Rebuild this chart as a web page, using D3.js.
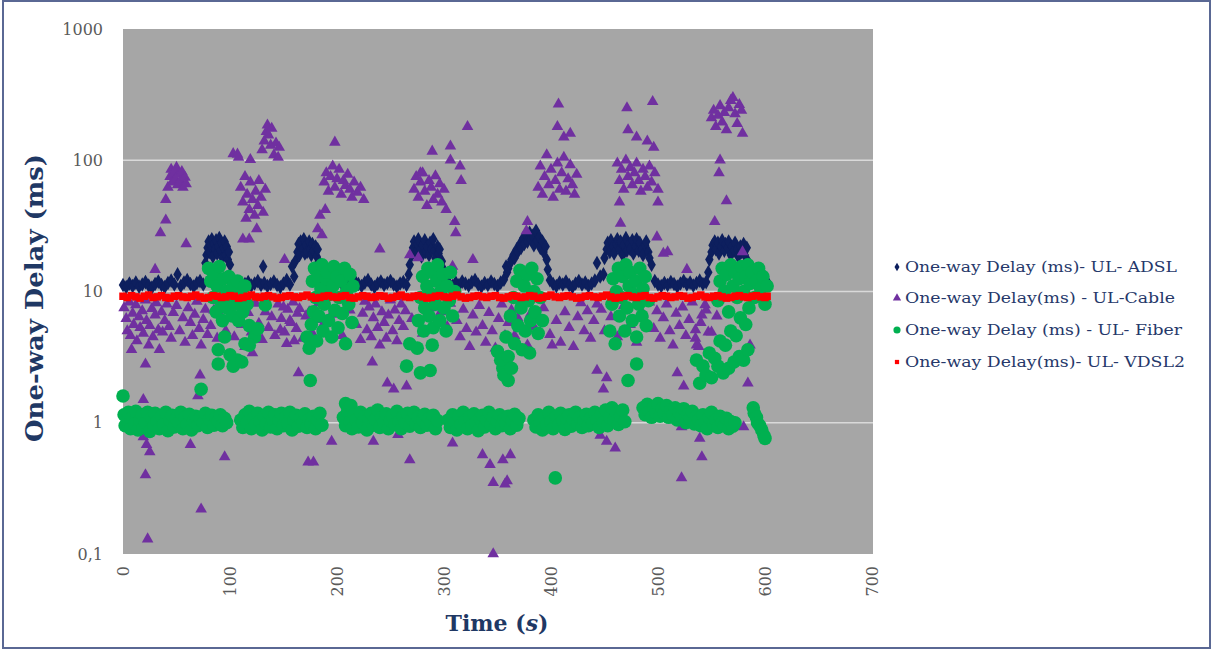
<!DOCTYPE html>
<html>
<head>
<meta charset="utf-8">
<script src="https://cdn.jsdelivr.net/npm/d3@7"></script>
<style>
  html, body { margin: 0; padding: 0; background: #ffffff; }
  svg { display: block; }
</style>
</head>
<body>
<svg id="chart" width="1212" height="650"></svg>
<script>
// Axis ticks
const xTicks = [0, 100, 200, 300, 400, 500, 600, 700];
const yTicks = [0.1, 1, 10, 100, 1000];
const yTickLabels = ["0,1", "1", "10", "100", "1000"];

// Series names
const seriesNames = [
  "One-way Delay (ms)- UL- ADSL",
  "One-way Delay(ms) - UL-Cable",
  "One-way Delay (ms) - UL- Fiber",
  "One-way Delay(ms)- UL- VDSL2"
];

// [time (s), delay (ms)]
const adsl = [
  [0,11.2],[3,10.8],[6,11.5],[9,11.0],[12,11.7],[15,10.9],[18,11.3],[21,11.8],[24,11.1],[27,10.7],[30,11.4],[33,11.9],[36,11.2],[39,10.8],[42,11.6],[45,12.1],[48,11.3],[51,13.5],[54,11.0],[57,11.7],[60,12.2],[63,11.4],[66,10.9],[69,11.6],[72,12.0],[75,11.3],
  [77,16.5],[78,19],[79,21.5],[80,24],[81,20],[82,22.5],[83,25],[84,18.5],[85,23],[86,21],[87,24.5],[88,19.5],[89,22],[90,25.5],[91,20.5],[92,23.5],[93,18],[94,21.5],[95,24],[96,19],[97,22],[98,17.5],[99,20],[100,16],
  [102,12.5],[105,11.2],[108,11.6],[111,10.9],[114,11.4],[117,11.8],[120,11.1],[123,11.5],[126,12.0],[129,11.2],[131,15.5],[132,11.6],[135,11.0],[138,11.4],[141,11.9],[144,11.2],[147,10.8],[150,11.5],[153,12.2],[156,11.3],[158,15.5],[160,13],
  [161,17],[163,20],[164,23],[165,19],[166,24],[168,21],[169,25],[170,19.5],[171,22.5],[172,20],[174,24],[175,21],[176,19],[177,23],[178,20.5],[180,22],[181,18.5],[182,21],[183,17],[185,13.5],
  [187,11.6],[190,11.2],[193,11.8],[196,11.0],[199,11.5],[202,12.1],[205,11.3],[208,10.9],[211,11.6],[214,11.2],[217,11.9],[220,11.4],[223,11.0],[226,11.7],[229,12.2],[232,11.3],[235,10.8],[238,11.5],[241,11.9],[244,11.2],[247,11.6],[250,12.0],[253,11.3],[256,10.9],[259,11.5],[262,11.8],[265,11.2],[267,13.5],
  [268,16],[270,19],[271,21.5],[272,24],[274,20],[275,23],[276,25],[278,21],[279,18.5],[280,22.5],[282,24.5],[283,20],[284,22],[286,19],[287,23.5],[288,21],[290,25],[291,20.5],[292,18],[294,22],[295,19.5],[296,21],[298,17],[300,14.5],
  [302,12.0],[305,11.4],[308,11.0],[311,11.7],[314,11.2],[317,11.9],[320,11.5],[323,11.1],[326,11.8],[329,12.2],[332,11.3],[335,10.9],[338,11.6],[341,11.2],[344,11.9],[347,11.4],[350,11.0],[353,11.7],[356,12.3],[358,15.5],[359,14],
  [360,15],[362,16.5],[363,17.5],[365,19],[366,18],[368,21],[369,20],[371,23],[372,21.5],[374,25.5],[375,23],[377,27],[378,24],[380,28],[381,25],[383,26.5],[384,22.5],[386,29],[387,24.5],[389,26],[390,21.5],[392,24],[393,20],[395,22],[396,17.5],[397,14.7],
  [399,12.2],[402,11.4],[405,11.0],[408,11.7],[411,11.3],[414,11.9],[417,11.2],[420,10.8],[423,11.5],[426,12.0],[429,11.3],[432,11.7],[435,11.0],[438,11.5],[441,12.1],[443,16.5],[446,13],[449,13.5],
  [450,18],[452,21],[453,23.5],[455,20],[456,24.5],[458,22],[459,19.5],[461,23],[462,25],[464,21],[465,24],[467,19],[468,22.5],[470,25.5],[471,20.5],[473,23],[474,21],[476,24.5],[477,19.5],[479,22],[480,25],[482,20.5],[483,23.5],[485,21],[486,19],[488,22.5],[489,24],[491,20],[492,18],[494,16],
  [497,12.0],[500,11.3],[503,11.0],[506,11.6],[509,11.2],[512,11.8],[515,11.4],[518,10.9],[521,11.5],[524,12.0],[527,11.3],[530,11.7],[533,11.1],[536,11.6],[539,12.1],[542,11.4],[545,11.8],[547,14],
  [548,17.5],[550,20],[551,22.5],[553,24],[554,21],[556,23.5],[557,19.5],[559,22],[560,24.5],[562,20.5],[563,23],[565,21.5],[566,24],[568,19],[569,22],[571,20.5],[572,23.5],[574,21],[575,18.5],[577,22],[578,20],[580,23],[581,19],[583,21.5],[584,17],[586,14],
  [588,12.3],[591,11.6],[594,12.5],[597,11.8],[600,12.8],[603,11.5]
];

const cable = [
  [1,7.5],[3,6.2],[4,5.0],[6,8.3],[7,4.6],[9,6.8],[10,5.6],[12,7.9],[13,4.2],[15,6.4],[16,5.3],[18,7.1],[19,4.8],[21,8.6],[22,6.0],[24,3.9],[25,5.5],[27,7.4],[28,4.5],[30,6.6],[31,8.2],[33,5.1],[34,3.6],
  [8,3.6],[21,2.8],[19,1.5],[19,0.78],[22,0.68],[25,0.6],[21,0.40],[23,0.13],[30,14.7],[35,28],[40,35],[40,50],
  [42,62],[44,75],[45,85],[46,68],[48,80],[49,72],[50,88],[51,65],[52,78],[54,70],[55,82],[56,62],[58,74],[59,66],[59,23],
  [36,7.0],[37,4.9],[39,6.0],[41,8.0],[43,5.4],[45,4.4],[47,6.9],[50,7.8],[53,5.0],[56,6.3],[58,4.1],[61,7.5],[63,5.8],[65,4.6],[67,6.7],[69,8.4],[71,5.2],[73,3.9],[75,6.1],[77,7.3],[79,4.7],
  [63,0.68],[73,0.22],[70,1.6],[72,2.3],
  [82,5.5],[85,7.2],[88,4.4],[92,6.4],[96,5.0],[99,7.6],[95,0.55],
  [110,62],[112,48],[114,75],[116,55],[118,42],[119,68],[121,50],[123,38],[124,58],[126,45],[127,70],[129,52],[131,40],[133,60],
  [103,112],[108,105],[107,111],[119,101],
  [130,120],[132,140],[134,165],[135,185],[136,155],[138,130],[139,175],[141,110],[143,135],[145,105],[146,125],
  [112,25],[118,25],[151,17.5],[121,3.4],[164,2.4],[173,0.5],[115,36],[125,30],
  [101,6.6],[104,4.5],[107,7.8],[111,5.6],[114,3.8],[117,6.9],[120,4.9],[124,8.1],[127,5.7],[130,4.3],[133,7.0],[136,5.3],[139,6.4],[142,4.6],[145,8.0],[148,6.2],[151,4.9],[154,7.3],[157,5.8],[160,4.2],[163,6.8],
  [147,5.1],[150,7.6],[153,4.0],[156,6.0],[159,8.3],[162,5.2],[165,7.4],[168,4.4],[171,6.5],
  [198,137],[188,68],[190,80],[192,58],[194,75],[196,90],[198,62],[200,72],[202,85],[204,55],[206,70],[208,64],[210,78],[212,60],[214,52],[216,68],[219,57],[222,62],[225,50],
  [182,30],[184,38],[186,27],[189,42],[240,21],
  [174,7.0],[177,4.8],[180,6.1],[183,8.2],[186,5.4],[195,6.7],[205,4.6],[212,7.2],[218,5.6],[222,4.3],[224,6.8],[226,8.4],[228,5.1],[230,7.6],[232,4.5],[234,6.3],[236,8.0],[238,5.3],[240,3.9],[242,7.0],[244,5.8],[246,4.4],[248,6.6],[250,8.6],[252,5.0],[254,7.2],[256,4.2],[258,6.0],[260,8.0],[262,5.4],[264,7.1],
  [233,2.9],[247,2.0],[253,1.8],[265,1.9],[195,0.72],[234,0.72],[257,0.81],[268,0.52],[178,0.50],
  [268,19],[276,18],[308,15.5],[327,17.5],
  [322,180],[289,117],[306,128],[306,100],[315,90],[316,70],
  [272,60],[274,75],[276,52],[278,68],[278,80],[280,80],[282,58],[284,45],[286,70],[288,62],[290,50],[292,76],[294,55],[296,66],[298,48],[300,60],[302,42],
  [310,34],[311,28],
  [312,6.0],[315,4.5],[318,7.3],[321,5.2],[324,3.8],[327,6.6],[330,4.9],[333,7.8],[336,5.5],[339,4.1],[342,6.9],[345,5.0],[348,3.7],[351,6.2],[354,8.0],[357,4.6],[360,5.8],
  [297,7.0],[303,5.4],[306,8.1],[270,6.2],[280,4.8],[288,7.5],
  [308,0.70],[336,0.57],[343,0.48],[355,0.52],[346,0.35],[357,0.34],[346,0.1],
  [407,267],[406,180],[412,150],[418,160],
  [388,62],[390,90],[392,55],[394,75],[396,110],[398,65],[400,85],[402,52],[404,70],[406,95],[408,60],[410,80],[412,105],[414,58],[416,72],[418,92],[420,65],[422,55],[424,78],
  [378,34],[377,29],
  [363,7.2],[366,4.6],[369,6.3],[372,8.4],[375,5.0],[378,3.9],[381,6.8],[384,5.4],[393,7.5],[399,4.7],[405,6.0],[409,4.1],[413,7.0],[417,5.3],[421,3.8],[425,6.4],[428,8.2],[431,5.0],[434,7.1],[437,4.4],[440,6.0],[443,8.0],
  [401,3.9],[443,2.5],[449,1.8],[452,2.2],[452,0.72],[460,0.64],[362,0.57],[359,0.36],
  [471,250],[495,280],[472,170],[480,150],[490,140],[496,125],
  [462,95],[464,70],[466,85],[468,60],[470,100],[472,75],[474,88],[476,65],[478,80],[480,95],[482,70],[484,58],[486,85],[488,75],[490,62],[492,90],[494,68],[497,80],[500,60],
  [500,48],[464,48],[465,33],[499,26],[509,20],[527,14.7],[505,19.5],
  [447,7.3],[450,5.0],[456,6.4],[462,4.5],[468,7.8],[474,5.6],[480,4.1],[486,6.7],[492,8.3],[496,5.2],[499,7.1],[502,4.4],[505,6.3],[508,8.0],[511,5.0],[514,3.9],[517,6.8],[520,5.5],[523,7.6],[526,4.6],[529,6.1],[532,8.3],[535,5.1],[538,3.8],[541,6.6],[544,7.9],[547,4.9],
  [518,2.4],[524,1.9],[522,0.93],[522,0.38],[446,0.8],
  [550,210],[552,240],[554,180],[556,220],[558,260],[560,195],[562,230],[564,170],[566,250],[568,285],[570,300],[572,225],[574,190],[576,265],[578,240],[579,160],
  [558,100],[557,80],[564,49],[553,34],[579,20],
  [540,5.8],[545,7.2],[550,4.9],[555,6.5],[535,4.4],[536,3.9],[586,3.9],[584,2.0],[580,0.93],[539,0.76],[541,0.55]
];

const fiber = [
  [0,1.6],[1,1.15],[2,0.95],[4,1.05],[5,1.2],[7,0.9],[9,1.1],[11,0.98],[12,1.22],[14,0.88],[16,1.05],[18,1.15],[19,0.92],[21,1.0],[23,1.2],[25,0.86],[27,1.08],[29,0.95],[30,1.18],[32,1.02],[34,0.9],[36,1.12],[38,0.97],[40,1.2],[42,0.87],[44,1.05],[46,1.14],[48,0.93],[50,1.08],[52,1.0],[54,1.2],[56,0.9],[58,1.1],[60,0.97],[62,1.16],[64,0.88],[66,1.04],[68,1.12],[70,0.95],[72,1.08],[73,1.8],[75,1.0],[77,1.18],[79,0.92],[81,1.06],[83,1.14],[85,0.96],[87,1.1],[89,1.02],[91,1.15],[93,0.95],[95,1.08],[97,1.0],
  [80,15],[82,12],[84,9],[85,13.5],[87,7],[88,11],[90,15.5],[91,8.5],[93,6],[94,12.5],[96,10],[97,7.5],[99,13],[100,9],[102,6.5],[103,11],[105,8],[107,12],[108,6],[110,9.5],[112,7],[114,11],[116,8],[118,5.5],
  [89,3.6],[89,2.8],[107,3.0],[114,4.0],[123,4.5],[133,7.9],[95,4.5],[100,3.3],[103,2.7],[111,2.9],[118,3.9],[126,5.2],
  [110,1.05],[112,0.92],[114,1.15],[116,1.0],[118,1.22],[120,0.9],[122,1.08],[124,0.97],[126,1.18],[128,1.03],[130,0.88],[132,1.12],[134,0.98],[136,1.2],[138,0.93],[140,1.06],[142,1.15],[144,0.9],[146,1.04],[148,1.18],[150,0.95],[152,1.1],[154,0.99],[156,1.2],[158,0.88],[160,1.05],[162,1.14],[164,0.94],[166,1.08],[168,1.0],[170,1.17],[172,0.92],[174,1.06],[176,0.98],[178,1.12],[180,0.9],[182,1.05],[184,1.18],[186,0.96],
  [175,2.1],
  [172,4.5],[174,3.7],[176,5.6],[177,12],[178,7],[179,15],[180,9],[181,4.2],[182,13],[183,6.5],[185,10.5],[186,16],[187,5],[188,8],[190,12.5],[191,14],[192,6],[193,9.5],[195,4.5],[196,11],[197,15.5],[198,7.2],[200,13],[201,5.3],[202,9],[204,12],[205,6.8],[207,15],[208,4],[209,10],[211,8],[212,13.5],[214,5.8],[215,11],
  [206,1.1],[208,1.4],[208,0.95],[210,1.22],[212,1.02],[213,1.35],[214,0.9],[216,1.15],[218,1.05],[220,0.93],[222,1.2],[224,1.0],[226,1.12],[228,0.88],[230,1.08],[232,1.18],[234,0.96],[236,1.06],[238,1.25],[240,0.92],[242,1.1],[244,1.0],[246,1.17],[248,0.9],[250,1.04],[252,1.14],[254,0.97],[256,1.22],[258,1.02],[260,0.9],[262,1.12],[264,1.0],[266,1.18],[268,0.94],[270,1.07],[272,1.2],[274,0.98],[276,1.1],[278,0.92],[280,1.05],[282,1.16],[284,0.96],[286,1.08],[288,1.0],[290,1.14],[292,0.9],[294,1.04],
  [268,4.0],[275,3.7],[289,3.9],[265,2.7],[278,2.4],[287,2.5],
  [276,6],[278,9],[280,13],[281,5],[282,7.5],[284,11],[285,15],[286,6.5],[288,9.5],[289,14],[290,5.3],[292,8],[293,12],[294,16],[296,6],[297,10],[299,13.5],[300,7.5],[302,5],[303,11],[305,8.5],[306,14],[308,6.5],[310,10],
  [304,1.05],[306,0.92],[308,1.15],[310,1.0],[312,0.88],[314,1.12],[316,0.97],[318,1.2],[320,1.03],[322,0.9],[324,1.1],[326,0.95],[328,1.17],[330,1.0],[332,0.87],[334,1.08],[336,1.14],[338,0.93],[340,1.05],[342,1.2],[344,0.97],[346,1.1],[348,0.9],[350,1.02],[352,1.15],[354,0.95],[356,1.07],[358,0.99],[360,1.12],[362,0.9],[364,1.04],[366,1.16],[368,0.96],[370,1.08],
  [350,3.5],[355,2.6],[360,2.1],[353,3.0],[356,2.3],
  [358,4.5],[360,3.2],[362,6.5],[363,2.6],[365,9],[366,4],[368,12],[369,5.5],[371,14.5],[372,7.5],[373,3.6],[375,11],[376,5],[378,13.5],[379,8.5],[380,3.4],[381,6],[382,15],[384,10],[385,7],[387,12.5],[388,4.8],[390,9],[392,6],
  [384,1.05],[386,0.93],[388,1.15],[390,1.0],[392,0.88],[394,1.1],[396,0.97],[398,1.2],[400,1.02],[402,0.9],[404,0.38],[405,1.12],[407,0.96],[409,1.18],[411,1.04],[413,0.89],[415,1.08],[417,1.15],[419,0.94],[421,1.06],[423,1.2],[425,0.98],[427,1.1],[429,0.92],[431,1.04],[433,1.16],[435,0.95],[437,1.08],[439,1.0],[441,1.2],[443,1.05],[445,0.92],[447,1.15],[449,1.0],[451,1.25],[453,0.95],[455,1.1],[457,1.3],[459,1.05],[461,1.2],[463,0.97],[465,1.12],[467,1.25],[469,1.02],
  [480,2.8],[472,2.1],
  [455,5],[457,8],[458,12.5],[460,4],[461,10],[463,15],[464,6.5],[466,9],[467,13],[469,5],[470,16],[471,7.5],[473,11],[474,14],[476,6],[477,9.5],[479,12],[480,4.5],[482,8],[483,15],[485,6.5],[486,10.5],[488,13],[489,5.5],[491,8.5],
  [486,1.3],[488,1.15],[490,1.38],[492,1.22],[494,1.1],[496,1.32],[498,1.2],[500,1.4],[502,1.12],[504,1.28],[506,1.18],[508,1.35],[510,1.1],[512,1.25],[514,1.15],[516,1.3],[518,1.05],[520,1.2],[522,1.12],[524,1.28],[526,1.0],[528,1.16],[530,1.08],[532,1.22],[534,0.98],[536,1.12],
  [536,3.0],
  [538,1.05],[540,0.95],[542,1.15],[544,1.0],[546,0.9],[548,1.1],[550,1.2],[552,0.97],[554,1.05],[556,0.92],[558,1.12],[560,1.0],[562,0.95],[564,1.08],[566,0.9],[568,1.02],[570,0.94],[572,1.0],
  [539,2.0],[542,2.7],[545,2.3],[548,3.4],[550,2.2],[553,3.1],[556,2.7],[558,4.2],[561,2.4],[563,3.9],[566,2.6],[568,5.0],[571,2.9],[573,4.6],[576,3.2],[577,6.3],[580,3.0],[582,5.6],[584,3.6],[585,7.5],
  [556,8.5],[558,12],[560,15],[562,10],[564,13.5],[566,7],[568,16],[570,11],[572,14],[574,9],[576,12.5],[578,15.5],[580,10],[582,13],[584,16],[586,11.5],[588,14],[590,9],[592,12],[594,15],[596,10.5],[598,13],[600,8],[602,11],
  [589,1.3],[590,1.18],[592,1.1],[593,1.0],[595,0.95],[597,0.88],[599,0.8],[600,0.76]
];

const vdsl2 = [
  [0,9.2],[4,9.0],[8,9.3],[12,9.1],[16,8.9],[20,9.2],[24,9.4],[28,9.0],[32,9.1],[36,9.3],[40,9.0],[44,8.9],[48,9.2],[52,9.3],[56,9.1],[60,9.0],[64,9.2],[68,9.4],[72,9.1],[76,8.9],[80,9.0],[84,9.3],[88,9.2],[92,9.0],[96,9.1],[100,9.3],[104,9.2],[108,8.9],[112,9.0],[116,9.2],[120,9.4],[124,9.1],[128,9.0],[132,9.2],[136,9.3],[140,9.1],[144,8.9],[148,9.0],[152,9.2],[156,9.3],[160,9.1],[164,9.0],[168,9.2],[172,9.4],[176,9.1],[180,8.9],[184,9.0],[188,9.2],[192,9.3],[196,9.1],[200,9.0],[204,9.2],[208,9.3],[212,9.0],[216,8.9],[220,9.1],[224,9.3],[228,9.2],[232,9.0],[236,9.1],[240,9.3],[244,9.2],[248,8.9],[252,9.0],[256,9.2],[260,9.4],[264,9.1],[268,9.0],[272,9.2],[276,9.3],[280,9.1],[284,8.9],[288,9.0],[292,9.2],[296,9.3],[300,9.1],
  [304,9.0],[308,9.2],[312,9.4],[316,9.1],[320,8.9],[324,9.0],[328,9.2],[332,9.3],[336,9.1],[340,9.0],[344,9.2],[348,9.3],[352,9.0],[356,8.9],[360,9.1],[364,9.3],[368,9.2],[372,9.0],[376,9.1],[380,9.3],[384,9.2],[388,8.9],[392,9.0],[396,9.2],[400,9.4],[404,9.1],[408,9.0],[412,9.2],[416,9.3],[420,9.1],[424,8.9],[428,9.0],[432,9.2],[436,9.3],[440,9.1],[444,9.0],[448,9.2],[452,9.4],[456,9.1],[460,8.9],[464,9.0],[468,9.2],[472,9.3],[476,9.1],[480,9.0],[484,9.2],[488,9.3],[492,9.0],[496,8.9],[500,9.1],[504,9.3],[508,9.2],[512,9.0],[516,9.1],[520,9.3],[524,9.2],[528,8.9],[532,9.0],[536,9.2],[540,9.4],[544,9.1],[548,9.0],[552,9.2],[556,9.3],[560,9.1],[564,8.9],[568,9.0],[572,9.2],[576,9.3],[580,9.1],[584,9.0],[588,9.2],[592,9.3],[596,9.1],[600,9.0],[602,9.2]
];

const colors = ["#0d1f5e", "#7030a0", "#00b050", "#ff0000"];

const svg = d3.select("#chart");
const W = 1212, H = 650;
const plot = { left: 123, right: 873, top: 29, bottom: 554 };

const x = d3.scaleLinear().domain([0, 700]).range([plot.left, 872]);
const y = d3.scaleLog().domain([0.1, 1000]).range([plot.bottom, plot.top]);

// page background and frame
svg.append("rect").attr("width", W).attr("height", H).attr("fill", "#ffffff");
svg.append("rect")
  .attr("x", 3).attr("y", 1).attr("width", W - 5).attr("height", H - 3)
  .attr("fill", "none").attr("stroke", "#5a6894").attr("stroke-width", 2);

// plot area
svg.append("rect")
  .attr("x", plot.left).attr("y", plot.top)
  .attr("width", plot.right - plot.left).attr("height", plot.bottom - plot.top)
  .attr("fill", "#a6a6a6");

// horizontal gridlines
svg.append("g").selectAll("line")
  .data(yTicks.filter(d => d > 0.1 && d < 1000))
  .join("line")
  .attr("x1", plot.left).attr("x2", plot.right)
  .attr("y1", d => y(d)).attr("y2", d => y(d))
  .attr("stroke", "#d9d9d9").attr("stroke-width", 1.5);

// y axis
const yAxis = svg.append("g")
  .attr("transform", `translate(${plot.left},0)`)
  .call(d3.axisLeft(y).tickValues(yTicks)
    .tickFormat((d, i) => yTickLabels[i]).tickSize(0).tickPadding(20));
yAxis.select(".domain").remove();
yAxis.selectAll("text")
  .attr("font-family", "'DejaVu Serif', serif").attr("font-size", 16)
  .attr("fill", "#5a5a5a");

// x axis, labels turned upright
const xAxis = svg.append("g")
  .attr("transform", `translate(0,${plot.bottom})`)
  .call(d3.axisBottom(x).tickValues(xTicks).tickFormat(d3.format("d")).tickSize(0));
xAxis.select(".domain").remove();
xAxis.selectAll("text")
  .attr("transform", "rotate(-90)")
  .attr("x", -12).attr("y", 0).attr("dy", "0.35em")
  .attr("text-anchor", "end")
  .attr("font-family", "'DejaVu Serif', serif").attr("font-size", 16)
  .attr("fill", "#5a5a5a");

// axis titles
svg.append("text")
  .attr("transform", "translate(43,298) rotate(-90)")
  .attr("text-anchor", "middle")
  .attr("font-family", "'DejaVu Serif', serif").attr("font-weight", "bold")
  .attr("font-size", 25).attr("fill", "#1f3864")
  .attr("textLength", 288).attr("lengthAdjust", "spacingAndGlyphs")
  .text("One-way Delay (ms)");

const xTitle = svg.append("text")
  .attr("x", 497).attr("y", 631)
  .attr("text-anchor", "middle")
  .attr("font-family", "'DejaVu Serif', serif").attr("font-weight", "bold")
  .attr("font-size", 22).attr("fill", "#1f3864");
xTitle.append("tspan").text("Time (");
xTitle.append("tspan").attr("font-style", "italic").text("s");
xTitle.append("tspan").text(")");

// series markers
const symAdsl = d3.symbol().type(d3.symbolDiamond).size(62);
const symCable = d3.symbol().type(d3.symbolTriangle).size(58);
const symVdsl = d3.symbol().type(d3.symbolSquare).size(56);

const marks = svg.append("g");

marks.append("g").selectAll("path").data(adsl).join("path")
  .attr("d", symAdsl)
  .attr("transform", d => `translate(${x(d[0])},${y(d[1])})`)
  .attr("fill", colors[0]);

marks.append("g").selectAll("path").data(cable).join("path")
  .attr("d", symCable)
  .attr("transform", d => `translate(${x(d[0])},${y(d[1])})`)
  .attr("fill", colors[1]);

marks.append("g").selectAll("circle").data(fiber).join("circle")
  .attr("cx", d => x(d[0])).attr("cy", d => y(d[1]))
  .attr("r", 6.8)
  .attr("fill", colors[2]);

marks.append("g").selectAll("path").data(vdsl2).join("path")
  .attr("d", symVdsl)
  .attr("transform", d => `translate(${x(d[0])},${y(d[1])})`)
  .attr("fill", colors[3]);

// legend
const legendRows = [267, 298, 330, 362];
const legendWidths = [272, 270, 277, 280];
const legendSymbols = [
  d3.symbol().type(d3.symbolDiamond).size(22),
  d3.symbol().type(d3.symbolTriangle).size(30),
  d3.symbol().type(d3.symbolCircle).size(40),
  d3.symbol().type(d3.symbolSquare).size(18)
];
const legend = svg.append("g");
seriesNames.forEach((name, i) => {
  legend.append("path")
    .attr("d", legendSymbols[i])
    .attr("transform", `translate(897,${legendRows[i]})`)
    .attr("fill", colors[i]);
  legend.append("text")
    .attr("x", 905).attr("y", legendRows[i] + 5)
    .attr("font-family", "'DejaVu Serif', serif").attr("font-size", 15)
    .attr("fill", "#26386a")
    .attr("textLength", legendWidths[i]).attr("lengthAdjust", "spacingAndGlyphs")
    .text(name);
});
</script>
</body>
</html>
